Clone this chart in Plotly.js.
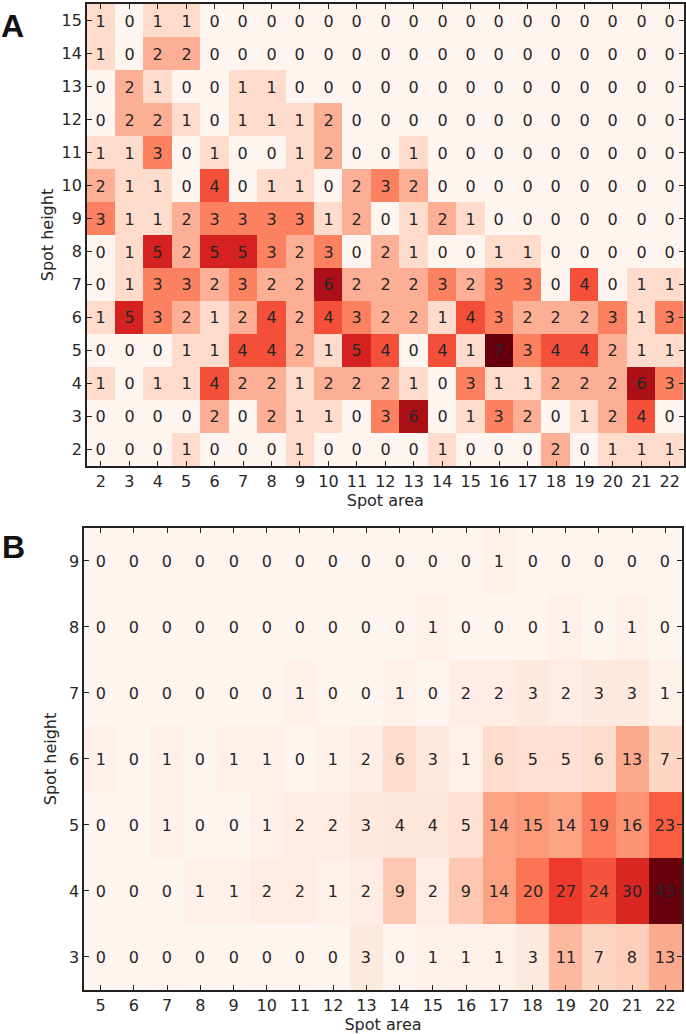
<!DOCTYPE html>
<html>
<head>
<meta charset="utf-8">
<script src="https://cdn.plot.ly/plotly-3.0.1.min.js"></script>
<style>html,body{margin:0;padding:0;background:#fff;}#chart{width:686px;height:1034px;}</style>
</head>
<body>
<div id="chart"></div>
<script>
// Panel A: spot area 2..22, spot height 2..15
const areaA = [2,3,4,5,6,7,8,9,10,11,12,13,14,15,16,17,18,19,20,21,22];
const heightA = [2,3,4,5,6,7,8,9,10,11,12,13,14,15];
const countsA = [
  [0,0,0,1,0,0,0,1,0,0,0,0,1,0,0,0,2,0,1,1,1],   // 2
  [0,0,0,0,2,0,2,1,1,0,3,6,0,1,3,2,0,1,2,4,0],   // 3
  [1,0,1,1,4,2,2,1,2,2,2,1,0,3,1,1,2,2,2,6,3],   // 4
  [0,0,0,1,1,4,4,2,1,5,4,0,4,1,7,3,4,4,2,1,1],   // 5
  [1,5,3,2,1,2,4,2,4,3,2,2,1,4,3,2,2,2,3,1,3],   // 6
  [0,1,3,3,2,3,2,2,6,2,2,2,3,2,3,3,0,4,0,1,1],   // 7
  [0,1,5,2,5,5,3,2,3,0,2,1,0,0,1,1,0,0,0,0,0],   // 8
  [3,1,1,2,3,3,3,3,1,2,0,1,2,1,0,0,0,0,0,0,0],   // 9
  [2,1,1,0,4,0,1,1,0,2,3,2,0,0,0,0,0,0,0,0,0],   // 10
  [1,1,3,0,1,0,0,1,2,0,0,1,0,0,0,0,0,0,0,0,0],   // 11
  [0,2,2,1,0,1,1,1,2,0,0,0,0,0,0,0,0,0,0,0,0],   // 12
  [0,2,1,0,0,1,1,0,0,0,0,0,0,0,0,0,0,0,0,0,0],   // 13
  [1,0,2,2,0,0,0,0,0,0,0,0,0,0,0,0,0,0,0,0,0],   // 14
  [1,0,1,1,0,0,0,0,0,0,0,0,0,0,0,0,0,0,0,0,0]    // 15
];

// Panel B: spot area 5..22, spot height 3..9
const areaB = [5,6,7,8,9,10,11,12,13,14,15,16,17,18,19,20,21,22];
const heightB = [3,4,5,6,7,8,9];
const countsB = [
  [0,0,0,0,0,0,0,0,3,0,1,1,1,3,11,7,8,13],        // 3
  [0,0,0,1,1,2,2,1,2,9,2,9,14,20,27,24,30,43],    // 4
  [0,0,1,0,0,1,2,2,3,4,4,5,14,15,14,19,16,23],    // 5
  [1,0,1,0,1,1,0,1,2,6,3,1,6,5,5,6,13,7],         // 6
  [0,0,0,0,0,0,1,0,0,1,0,2,2,3,2,3,3,1],          // 7
  [0,0,0,0,0,0,0,0,0,0,1,0,0,0,1,0,1,0],          // 8
  [0,0,0,0,0,0,0,0,0,0,0,0,1,0,0,0,0,0]           // 9
];

const reds = [
  [0.000,'#fff5f0'],[0.125,'#fee0d2'],[0.250,'#fcbba1'],[0.375,'#fc9272'],
  [0.500,'#fb6a4a'],[0.625,'#ef3b2c'],[0.750,'#cb181d'],[0.875,'#a50f15'],[1.000,'#67000d']
];

const FONT = 'DejaVu Sans, sans-serif';
const TXT = '#262626';
const cellFont = {family: FONT, size: 16, color: TXT};
const titleFont = {family: FONT, size: 16, color: TXT};

const maxOf = m => Math.max(...m.map(r => Math.max(...r)));

const traces = [
  {
    type: 'heatmap', x: areaA, y: heightA, z: countsA,
    colorscale: reds, zmin: 0, zmax: maxOf(countsA), showscale: false,
    texttemplate: '%{z}', textfont: cellFont, hoverinfo: 'x+y+z',
    xaxis: 'x', yaxis: 'y'
  },
  {
    type: 'heatmap', x: areaB, y: heightB, z: countsB,
    colorscale: reds, zmin: 0, zmax: maxOf(countsB), showscale: false,
    texttemplate: '%{z}', textfont: cellFont, hoverinfo: 'x+y+z',
    xaxis: 'x2', yaxis: 'y2'
  }
];

function ax(extra) {
  return Object.assign({
    showline: true, linecolor: '#222', linewidth: 1.6, mirror: 'ticks',
    ticks: 'inside', ticklen: 5, tickwidth: 1, tickcolor: '#222',
    dtick: 1, tick0: 0, showgrid: false, zeroline: false,
    tickfont: {family: FONT, size: 16, color: TXT}, fixedrange: true
  }, extra);
}

const layout = {
  width: 686, height: 1034,
  margin: {l: 0, r: 0, t: 0, b: 0},
  paper_bgcolor: '#ffffff', plot_bgcolor: '#ffffff',
  showlegend: false,
  xaxis: ax({domain: [0.1263, 0.9971], range: [1.5, 22.5], anchor: 'y',
    title: {text: 'Spot area', font: titleFont, standoff: 5}}),
  yaxis: ax({domain: [0.5493, 0.9961], range: [1.5, 15.5], anchor: 'x',
    title: {text: 'Spot height', font: titleFont, standoff: 4}}),
  xaxis2: ax({domain: [0.1224, 0.9942], range: [4.5, 22.5], anchor: 'y2',
    title: {text: 'Spot area', font: titleFont, standoff: 5}}),
  yaxis2: ax({domain: [0.0426, 0.4894], range: [2.5, 9.5], anchor: 'x2',
    title: {text: 'Spot height', font: titleFont, standoff: 8}}),
  annotations: [
    {text: '<b>A</b>', xref: 'paper', yref: 'paper', x: 0, y: 1, xanchor: 'left', yanchor: 'top',
     xshift: -1, yshift: -6, showarrow: false, font: {family: 'Liberation Sans, Arial, sans-serif', size: 32, color: '#111'}},
    {text: '<b>B</b>', xref: 'paper', yref: 'paper', x: 0, y: 0.4894, xanchor: 'left', yanchor: 'top',
     xshift: 0, yshift: 1, showarrow: false, font: {family: 'Liberation Sans, Arial, sans-serif', size: 32, color: '#111'}}
  ]
};

Plotly.newPlot('chart', traces, layout, {displayModeBar: false, staticPlot: true});
</script>
</body>
</html>
